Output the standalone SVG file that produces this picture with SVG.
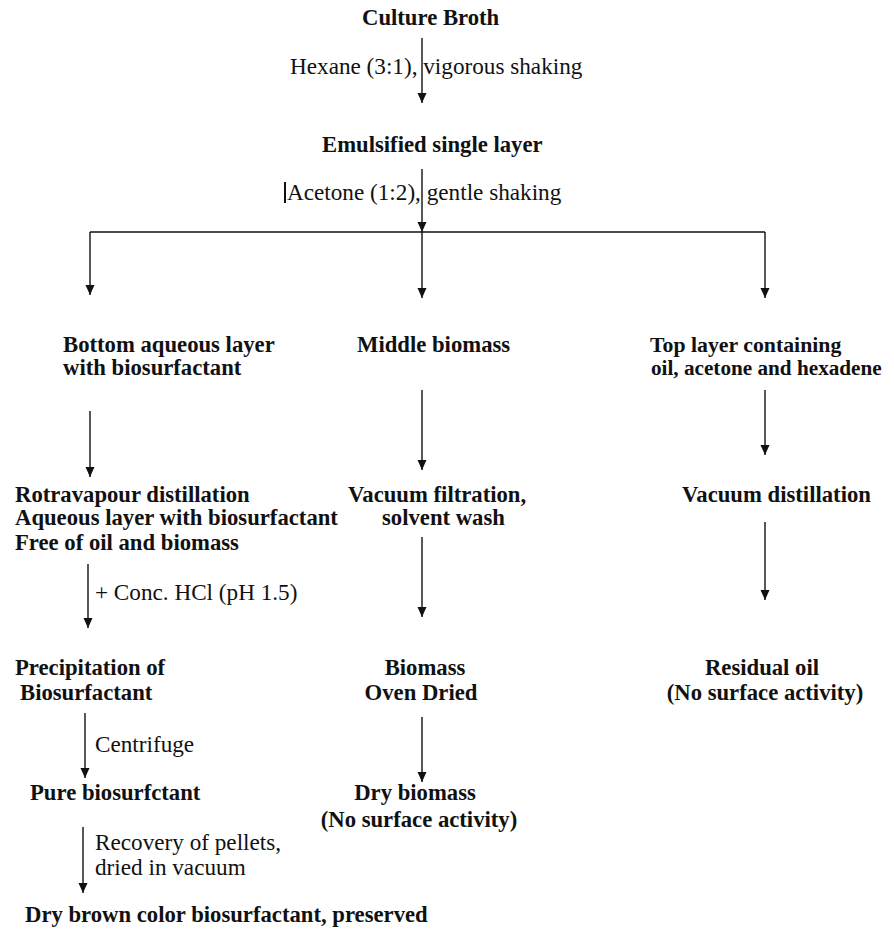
<svg xmlns="http://www.w3.org/2000/svg" width="894" height="934" viewBox="0 0 894 934">
<style>
text{font-family:"Liberation Serif","Times New Roman",serif;font-size:23.2px;fill:#111}
.b{font-weight:bold;font-size:22.7px}
.c{text-anchor:middle}
.ln{stroke:#111;stroke-width:1.4;fill:none}
.ar{marker-end:url(#ah)}
</style>
<defs>
<marker id="ah" markerUnits="userSpaceOnUse" viewBox="0 -5 10 10" refX="10" refY="0" markerWidth="10" markerHeight="10" orient="auto">
<path d="M0,-4.5 L10,0 L0,4.5 z" fill="#111"/>
</marker>
</defs>
<rect width="894" height="934" fill="#fff"/>
<g id="connectors">
<line class="ln ar" x1="422" y1="38" x2="422" y2="103"/>
<line class="ln ar" x1="422" y1="169" x2="422" y2="232"/>
<line class="ln" x1="90" y1="232" x2="765" y2="232"/>
<line class="ln ar" x1="90" y1="232" x2="90" y2="295"/>
<line class="ln ar" x1="422" y1="232" x2="422" y2="298"/>
<line class="ln ar" x1="765" y1="232" x2="765" y2="298"/>
<line class="ln ar" x1="90" y1="411" x2="90" y2="477"/>
<line class="ln ar" x1="422" y1="390" x2="422" y2="470"/>
<line class="ln ar" x1="765" y1="390" x2="765" y2="455"/>
<line class="ln ar" x1="88" y1="564" x2="88" y2="628"/>
<line class="ln ar" x1="422" y1="537" x2="422" y2="617"/>
<line class="ln ar" x1="765" y1="522" x2="765" y2="600"/>
<line class="ln ar" x1="85" y1="713" x2="85" y2="778"/>
<line class="ln ar" x1="422" y1="717" x2="422" y2="782"/>
<line class="ln ar" x1="83" y1="827" x2="83" y2="893"/>
<text x="290" y="74">Hexane (3:1), vigorous shaking</text>
<rect x="284" y="182" width="2" height="21" fill="#111"/>
<text x="287" y="200">Acetone (1:2), gentle shaking</text>
<text x="95" y="600">+ Conc. HCl (pH 1.5)</text>
<text x="95" y="752">Centrifuge</text>
<text x="95" y="850">Recovery of pellets,</text>
<text x="95" y="875">dried in vacuum</text>
</g>
<g id="culture-broth"><text class="b" x="362" y="25">Culture Broth</text></g>
<g id="emulsified"><text class="b" x="322" y="152">Emulsified single layer</text></g>
<g id="bottom-layer"><text class="b" x="63" y="352">Bottom aqueous layer</text><text class="b" x="63" y="375">with biosurfactant</text></g>
<g id="middle-biomass"><text class="b" x="357" y="352">Middle biomass</text></g>
<g id="top-layer"><text class="b" x="650" y="352" style="font-size:21.8px">Top layer containing</text><text class="b" x="651" y="375" style="font-size:21.2px">oil, acetone and hexadene</text></g>
<g id="rotravapour"><text class="b" x="15" y="502">Rotravapour distillation</text><text class="b" x="15" y="525">Aqueous layer with biosurfactant</text><text class="b" x="15" y="550">Free of oil and biomass</text></g>
<g id="vacuum-filtration"><text class="b" x="348" y="502">Vacuum filtration,</text><text class="b" x="382" y="525">solvent wash</text></g>
<g id="vacuum-distillation"><text class="b" x="682" y="502">Vacuum distillation</text></g>
<g id="precipitation"><text class="b" x="15" y="675">Precipitation of</text><text class="b" x="20" y="700">Biosurfactant</text></g>
<g id="biomass-oven"><text class="b c" x="425" y="675">Biomass</text><text class="b c" x="421" y="700">Oven Dried</text></g>
<g id="residual-oil"><text class="b c" x="762" y="675">Residual oil</text><text class="b c" x="765" y="700">(No surface activity)</text></g>
<g id="pure-biosurfactant"><text class="b" x="30" y="800">Pure biosurfctant</text></g>
<g id="dry-biomass"><text class="b c" x="415" y="800">Dry biomass</text><text class="b c" x="419" y="827">(No surface activity)</text></g>
<g id="dry-brown"><text class="b" x="25" y="922">Dry brown color biosurfactant, preserved</text></g>
</svg>
